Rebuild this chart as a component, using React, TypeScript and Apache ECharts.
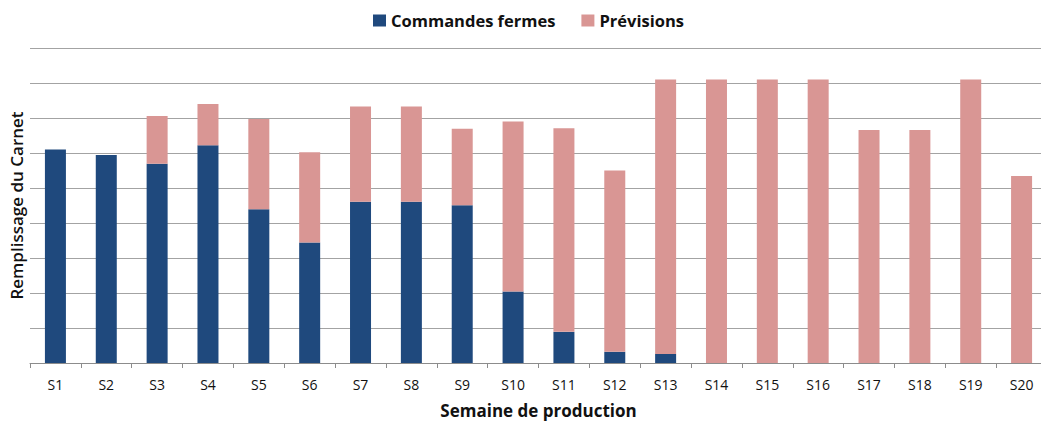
import React, { useEffect, useRef } from "react";
import * as echarts from "echarts";

const categories = ["S1","S2","S3","S4","S5","S6","S7","S8","S9","S10","S11","S12","S13","S14","S15","S16","S17","S18","S19","S20"];
const commandesFermes = [6.1, 5.94, 5.69, 6.22, 4.39, 3.44, 4.61, 4.61, 4.51, 2.04, 0.89, 0.32, 0.26, 0, 0, 0, 0, 0, 0, 0];
const previsions = [0, 0, 1.37, 1.18, 2.58, 2.58, 2.72, 2.72, 2.18, 4.86, 5.82, 5.18, 7.84, 8.1, 8.1, 8.1, 6.66, 6.66, 8.1, 5.34];
const seriesNames = ["Commandes fermes", "Prévisions"];
const xTitle = "Semaine de production";
const yTitle = "Remplissage du Carnet";

const FONT = "'Open Sans', 'Noto Sans', sans-serif";

export default function App() {
  const ref = useRef<HTMLDivElement>(null);
  useEffect(() => {
    if (!ref.current) return;
    const chart = echarts.init(ref.current, undefined, { renderer: "svg" });
    chart.setOption({
      animation: false,
      backgroundColor: "#ffffff",
      textStyle: { fontFamily: FONT },
      legend: {
        data: seriesNames,
        left: 368,
        top: 7,
        itemWidth: 13,
        itemHeight: 12,
        itemGap: 26,
        icon: "rect",
        textStyle: { fontFamily: FONT, fontSize: 16.5, fontWeight: "bold", color: "#111111" },
      },
      grid: { left: 30, right: -6, top: 48, bottom: 66, outerBoundsMode: "none", containLabel: false },
      xAxis: {
        type: "category",
        data: categories,
        axisLine: { lineStyle: { color: "#8c8c8c", width: 1 } },
        axisTick: { show: true, length: 5, lineStyle: { color: "#8c8c8c" } },
        axisLabel: { fontFamily: FONT, fontSize: 14, color: "#111111", margin: 14, interval: 0 },
        name: xTitle,
        nameLocation: "middle",
        nameGap: 39,
        nameTextStyle: { fontFamily: FONT, fontSize: 17, fontWeight: "bold", color: "#111111" },
      },
      yAxis: {
        type: "value",
        min: 0,
        max: 9,
        interval: 1,
        axisLine: { show: false },
        axisTick: { show: false },
        axisLabel: { show: false },
        splitLine: { lineStyle: { color: "#a3a3a3", width: 1 } },
        name: yTitle,
        nameLocation: "middle",
        nameRotate: 90,
        nameGap: 5,
        nameTextStyle: { fontFamily: FONT, fontSize: 17, fontWeight: 600, color: "#111111" },
      },
      series: [
        {
          name: seriesNames[0],
          type: "bar",
          stack: "total",
          barWidth: 21,
          itemStyle: { color: "#1f497d" },
          data: commandesFermes,
        },
        {
          name: seriesNames[1],
          type: "bar",
          stack: "total",
          barWidth: 21,
          itemStyle: { color: "#d99694" },
          data: previsions,
        },
      ],
    });
    return () => chart.dispose();
  }, []);
  return (
    <div
      ref={ref}
      style={{ position: "absolute", left: 0, top: 0, width: 1041, height: 429 }}
    />
  );
}
